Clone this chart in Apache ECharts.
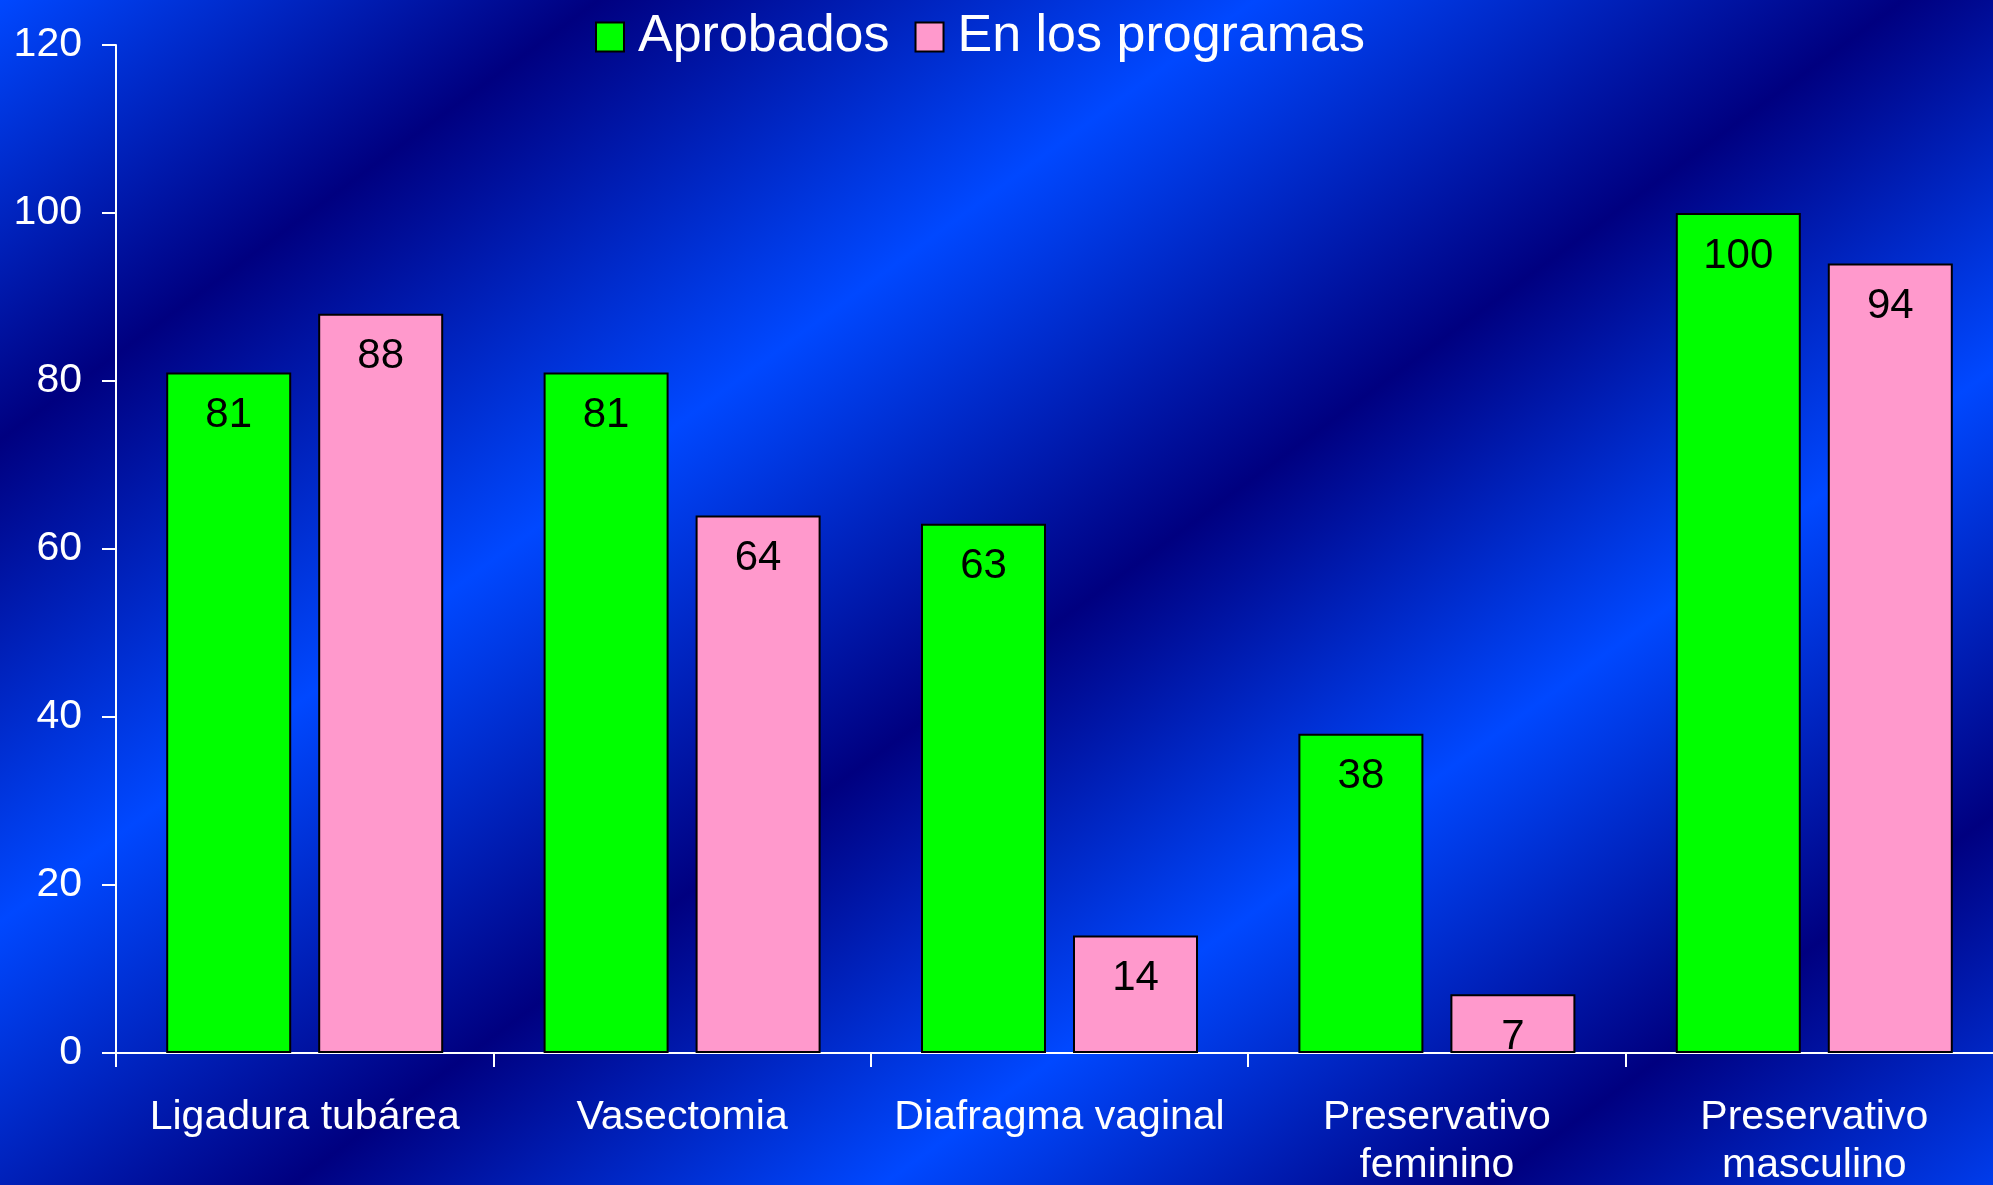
<!DOCTYPE html>
<html>
<head>
<meta charset="utf-8">
<script src="https://cdn.jsdelivr.net/npm/echarts@6/dist/echarts.min.js"></script>
<style>
  html, body { margin: 0; padding: 0; }
  #main {
    width: 1993px; height: 1185px;
    background: linear-gradient(143.7deg,
      #0048ff 0%, #000080 16.6%, #0048ff 34.8%,
      #000080 52.8%, #0048ff 69.2%, #000080 86%, #003ceb 100%);
  }
</style>
</head>
<body>
<div id="main"></div>
<script>
// datos
var categorias = ['Ligadura tubárea', 'Vasectomia', 'Diafragma vaginal', 'Preservativo\nfeminino', 'Preservativo\nmasculino'];
var aprobados = [81, 81, 63, 38, 100];
var enProgramas = [88, 64, 14, 7, 94];
var nombres = ['Aprobados', 'En los programas'];

var fuente = 'Liberation Sans, Arial, sans-serif';
var myChart = echarts.init(document.getElementById('main'));

var etiqueta = {
  show: true,
  position: 'insideTop',
  distance: 22,
  color: '#000',
  fontSize: 42,
  fontFamily: fuente
};

var option = {
  backgroundColor: 'transparent',
  animation: false,
  legend: {
    data: nombres,
    left: 590,
    top: 6,
    itemWidth: 28,
    itemHeight: 29,
    itemGap: 25,
    icon: 'rect',
    textStyle: { color: '#fff', fontSize: 52, fontFamily: fuente, padding: [0, 0, 0, 9] }
  },
  grid: {
    left: 116,
    top: 45,
    bottom: 132,
    width: 1887,
    outerBoundsMode: 'none'
  },
  xAxis: {
    type: 'category',
    data: categorias,
    axisLine: { lineStyle: { color: '#fff', width: 2 } },
    axisTick: { show: true, length: 14, lineStyle: { color: '#fff', width: 2 } },
    axisLabel: { color: '#fff', fontSize: 41, fontFamily: fuente, margin: 41, lineHeight: 48, interval: 0 },
    splitLine: { show: false }
  },
  yAxis: {
    type: 'value',
    min: 0,
    max: 120,
    interval: 20,
    axisLine: { show: true, lineStyle: { color: '#fff', width: 2 } },
    axisTick: { show: true, length: 14, lineStyle: { color: '#fff', width: 2 } },
    axisLabel: { color: '#fff', fontSize: 41, fontFamily: fuente, margin: 34 },
    splitLine: { show: false }
  },
  series: [{
    name: nombres[0],
    type: 'bar',
    data: aprobados,
    barWidth: 125,
    barGap: '21.6%',
    itemStyle: { color: '#00ff00', borderColor: '#000', borderWidth: 2 },
    label: etiqueta
  }, {
    name: nombres[1],
    type: 'bar',
    data: enProgramas,
    barWidth: 125,
    itemStyle: { color: '#ff99cc', borderColor: '#000', borderWidth: 2 },
    label: etiqueta
  }]
};

myChart.setOption(option);
</script>
</body>
</html>
